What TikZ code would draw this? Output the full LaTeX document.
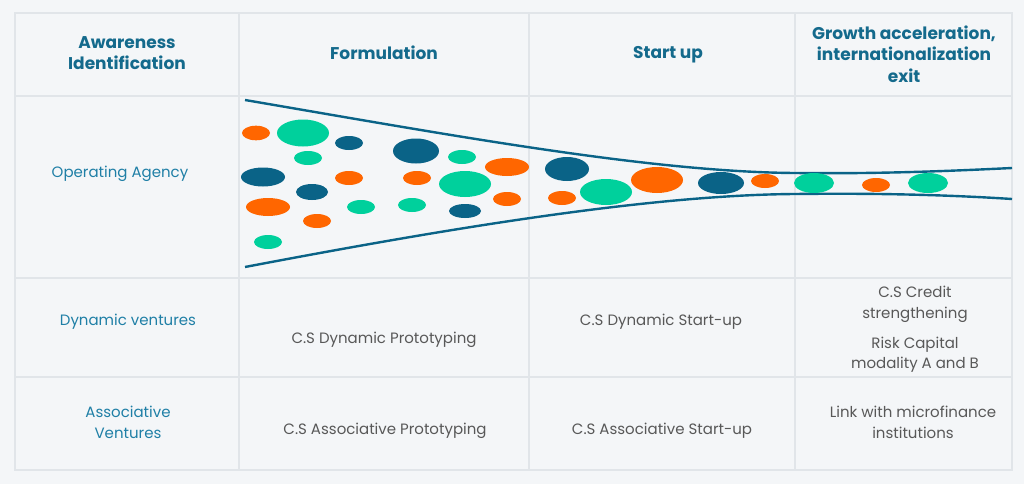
\documentclass[tikz,border=0pt]{standalone}
\usepackage{fontspec}
\setmainfont{Poppins}
\definecolor{bg}{HTML}{F4F6F8}
\definecolor{gridc}{HTML}{E1E5E9}
\definecolor{headc}{HTML}{146A8C}
\definecolor{labc}{HTML}{1F7FA6}
\definecolor{bodyc}{HTML}{585858}
\definecolor{dkc}{HTML}{0A6387}
\definecolor{grc}{HTML}{00D09C}
\definecolor{orc}{HTML}{FF6600}
\tikzset{
  head/.style={text=headc, font=\fontsize{17}{21.5}\selectfont\bfseries, align=center},
  lab/.style={text=labc, font=\fontsize{15}{20.5}\selectfont, align=center},
  body/.style={text=bodyc, font=\fontsize{15}{20.5}\selectfont, align=center},
  gridline/.style={draw=gridc, line width=1.4pt},
  funnel/.style={draw=dkc, line width=2.4pt},
}
\begin{document}
\begin{tikzpicture}[x=1pt,y=-1pt]
\useasboundingbox (0,0) rectangle (1024,484);
\fill[bg] (0,0) rectangle (1024,484);
% grid
\draw[gridline] (15,13) rectangle (1012,470);
\foreach \x in {239,529,795} \draw[gridline] (\x,13) -- (\x,470);
\foreach \y in {96,278,377} \draw[gridline] (15,\y) -- (1012,\y);
% headers
\node[head] (h1) at (127,53) {Awareness\\Identification};
\node[head] (h2) at (384,53) {Formulation};
\node[head] (h3) at (668,54.5) {Start up};
\node[head] (h4) at (904,54) {Growth acceleration,\\internationalization\\exit};
% row labels
\node[lab] (r1) at (120,173.5) {Operating Agency};
\node[lab] (r2) at (128,321.5) {Dynamic ventures};
\node[lab] (r3) at (128,422.5) {Associative\\Ventures};
% body
\node[body] (b1) at (384,339.5) {C.S Dynamic Prototyping};
\node[body] (b2) at (661,321.5) {C.S Dynamic Start-up};
\node[body] (b3) at (915,304.5) {C.S Credit\\strengthening};
\node[body] (b4) at (915,354.5) {Risk Capital\\modality A and B};
\node[body] (b5) at (385,430.5) {C.S Associative Prototyping};
\node[body] (b6) at (662,430.5) {C.S Associative Start-up};
\node[body] (b7) at (913,422.5) {Link with microfinance\\institutions};
% funnel
\draw[funnel] (245,100) .. controls (450,135) and (650,172) .. (795,173)
  .. controls (880,174) and (950,171) .. (1012,168);
\draw[funnel] (245,267) .. controls (450,228) and (650,195) .. (795,194)
  .. controls (880,193) and (950,195) .. (1012,199);
% dots
\fill[orc] (256,133) ellipse (14 and 7.3);
\fill[grc] (303,133) ellipse (26 and 13.5);
\fill[dkc] (349,143) ellipse (14 and 7);
\fill[grc] (308,158) ellipse (14 and 7);
\fill[dkc] (416,151) ellipse (23 and 12.5);
\fill[grc] (462,157) ellipse (14 and 7);
\fill[dkc] (263,177) ellipse (22 and 9.5);
\fill[orc] (349,178) ellipse (14 and 7);
\fill[orc] (417,178) ellipse (14 and 7);
\fill[grc] (465,184) ellipse (26 and 13);
\fill[orc] (507,167) ellipse (22 and 9);
\fill[dkc] (312,192) ellipse (16 and 8);
\fill[orc] (268,207) ellipse (22 and 9);
\fill[grc] (361,207) ellipse (14 and 7);
\fill[grc] (412,205) ellipse (14 and 7);
\fill[dkc] (465,211) ellipse (16 and 7);
\fill[orc] (507,199) ellipse (14 and 7);
\fill[orc] (317,221) ellipse (14 and 7);
\fill[grc] (268,242) ellipse (14 and 7);
\fill[dkc] (567,169) ellipse (22 and 12);
\fill[orc] (562,198) ellipse (14 and 7);
\fill[grc] (606,192) ellipse (26 and 13);
\fill[orc] (657,180) ellipse (26 and 13);
\fill[dkc] (721,183) ellipse (23 and 11);
\fill[orc] (765,181) ellipse (14 and 7);
\fill[grc] (814,183) ellipse (20 and 10);
\fill[orc] (876,185) ellipse (14 and 7);
\fill[grc] (928,183) ellipse (20 and 10);
\end{tikzpicture}
\end{document}
